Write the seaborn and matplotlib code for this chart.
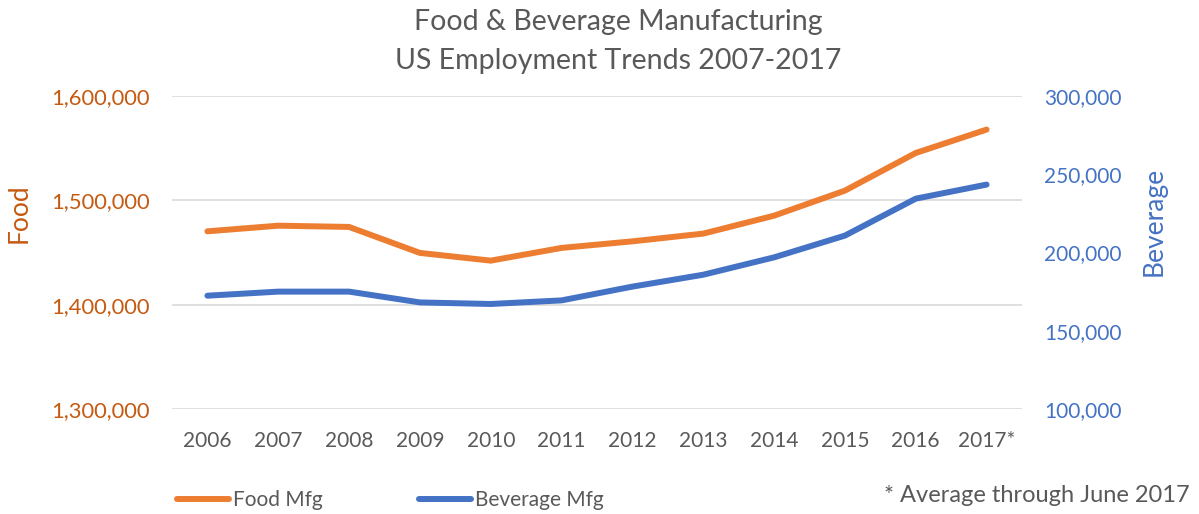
import matplotlib
matplotlib.use("Agg")
import matplotlib.pyplot as plt
import seaborn as sns
from matplotlib.lines import Line2D
from matplotlib.ticker import FuncFormatter

# values
years = ["2006", "2007", "2008", "2009", "2010", "2011",
         "2012", "2013", "2014", "2015", "2016", "2017*"]
food_mfg = [1470300, 1475700, 1474500, 1449600, 1442200, 1454400,
            1460700, 1468100, 1485300, 1509300, 1545400, 1567800]
beverage_mfg = [172400, 175000, 175000, 168100, 167100, 169400,
                178200, 185800, 196900, 210800, 234400, 243400]
food_ticks = [1300000, 1400000, 1500000, 1600000]
bev_ticks = [100000, 150000, 200000, 250000, 300000]

ORANGE = "#ED7D31"
ORANGE_TXT = "#C55A11"
BLUE = "#4472C4"
GREY = "#595959"

sns.set_style("white")
plt.rcParams["font.family"] = ["Lato", "DejaVu Sans"]

W, H = 1199, 514
fig = plt.figure(figsize=(W / 100, H / 100), dpi=100)
ax = fig.add_axes([172 / W, (H - 409) / H, 850 / W, 313 / H])
ax2 = ax.twinx()

sns.lineplot(x=years, y=food_mfg, ax=ax, color=ORANGE, linewidth=4.3,
             solid_capstyle="round", sort=False)
sns.lineplot(x=years, y=beverage_mfg, ax=ax2, color=BLUE, linewidth=4.3,
             solid_capstyle="round", sort=False)

ax.set_xlim(-0.5, 11.5)
ax.set_ylim(1300000, 1600000)
ax2.set_ylim(100000, 300000)
ax.set_yticks(food_ticks)
ax2.set_yticks(bev_ticks)

fmt = FuncFormatter(lambda v, p: f"{int(v):,}")
ax.yaxis.set_major_formatter(fmt)
ax2.yaxis.set_major_formatter(fmt)

ax.grid(axis="y", color="#d9d9d9", linewidth=1.2)
ax.grid(axis="x", visible=False)
ax2.grid(False)
ax.set_zorder(ax2.get_zorder() - 1)
ax2.patch.set_visible(False)
for a in (ax, ax2):
    for s in a.spines.values():
        s.set_visible(False)

ax.tick_params(axis="y", length=0, pad=16, labelsize=15.8, labelcolor=ORANGE_TXT)
ax2.tick_params(axis="y", length=0, pad=16, labelsize=15, labelcolor=BLUE)
ax.tick_params(axis="x", length=0, pad=16, labelsize=15, labelcolor=GREY)

ax.set_ylabel("Food", fontsize=19, color=ORANGE_TXT)
ax.yaxis.set_label_coords((32 - 172) / 850, (409 - 213) / 313)
ax2.set_ylabel("Beverage", fontsize=19, color=BLUE)
ax2.yaxis.set_label_coords((1142 - 172) / 850, (409 - 221) / 313)

fig.text(618 / W, 1 - 22 / H, "Food & Beverage Manufacturing",
         ha="center", va="center", fontsize=20.5, color=GREY)
fig.text(618 / W, 1 - 61 / H, "US Employment Trends 2007-2017",
         ha="center", va="center", fontsize=20.5, color=GREY)

handles = [Line2D([], [], color=ORANGE, linewidth=4.3, solid_capstyle="round"),
           Line2D([], [], color=BLUE, linewidth=4.3, solid_capstyle="round")]
fig.legend(handles, ["Food Mfg", "Beverage Mfg"], ncol=2, frameon=False,
           loc="center left", bbox_to_anchor=(158 / W, 1 - 500 / H),
           fontsize=15, handlelength=2.5, handletextpad=0.2,
           columnspacing=4.6, labelcolor=GREY)

fig.text(1190 / W, 1 - 495 / H, "* Average through June 2017",
         ha="right", va="center", fontsize=17, color=GREY)

fig.savefig("out.png", dpi=100)
